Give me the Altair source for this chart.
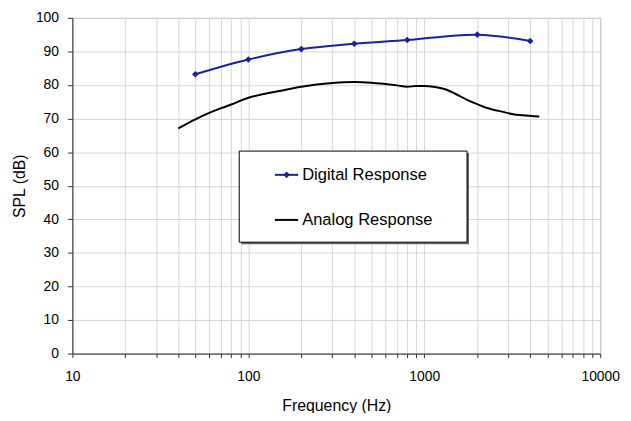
import altair as alt
import pandas as pd

# ---- data ----
dig_freq = [50, 100, 200, 400, 800, 2000, 4000]
dig_spl = [83.2, 87.6, 90.7, 92.3, 93.4, 95.0, 93.1]

ana_freq = [40, 50, 60, 70, 80, 100, 150, 200, 300, 400, 500, 600, 700, 800,
            900, 1000, 1150, 1300, 1500, 1750, 2000, 2300, 2800, 3200, 3600, 4500]
ana_spl = [67.1, 69.8, 71.7, 73.1, 74.2, 76.2, 78.2, 79.5, 80.6, 80.9, 80.7, 80.3,
           79.9, 79.5, 79.7, 79.7, 79.4, 78.8, 77.4, 75.6, 74.3, 73.1, 72.0, 71.3,
           71.0, 70.6]

x_grid = [m * 10 ** e for e in (1, 2, 3) for m in range(1, 10)] + [10000]
x_labels = [10, 100, 1000, 10000]
y_ticks = list(range(0, 101, 10))
legend_labels = ["Digital Response", "Analog Response"]

FONT = "Liberation Sans"
NAVY = "#15249a"

dig = pd.DataFrame({"freq": dig_freq, "spl": dig_spl})
ana = pd.DataFrame({"freq": ana_freq, "spl": ana_spl})

xscale = alt.Scale(type="log", domain=[10, 10000], nice=False)
yscale = alt.Scale(domain=[0, 100], nice=False)

label_expr = "indexof(%s, datum.value) >= 0 ? datum.label : ''" % str(x_labels)

xaxis = alt.Axis(values=x_grid, format="d", labelExpr=label_expr, title="Frequency (Hz)",
                 tickSize=4, labelPadding=12, titleY=57, titleBaseline="alphabetic",
                 labelFlush=False, labelOverlap=False)
yaxis = alt.Axis(values=y_ticks, format="d", title="SPL (dB)", tickSize=5, labelPadding=9,
                 labelOverlap=False, labelFlush=False,
                 titleX=-48, titleY=169.5, titleBaseline="alphabetic", titleAngle=-90)

X = alt.X("freq:Q", scale=xscale, axis=xaxis)
Y = alt.Y("spl:Q", scale=yscale, axis=yaxis)

analog = alt.Chart(ana).mark_line(color="black", strokeWidth=2, interpolate="monotone").encode(x=X, y=Y)
digital_line = alt.Chart(dig).mark_line(color=NAVY, strokeWidth=2, interpolate="catmull-rom").encode(x=X, y=Y)
digital_pts = alt.Chart(dig).mark_point(shape="diamond", filled=True, color=NAVY, size=45, opacity=1).encode(x=X, y=Y)

# ---- legend (decoration) ----
one = pd.DataFrame({"k": [0]})
leg_df = pd.DataFrame({"label": legend_labels})

shadow = alt.Chart(one).mark_rect(fill="#666666").encode(
    x=alt.value(170.5), x2=alt.value(400.5), y=alt.value(136.5), y2=alt.value(228.5))
box = alt.Chart(one).mark_rect(fill="white", stroke="black", strokeWidth=1).encode(
    x=alt.value(168.5), x2=alt.value(398.5), y=alt.value(134.5), y2=alt.value(226.5))

dig_rule = alt.Chart(one).mark_rule(color=NAVY, strokeWidth=2).encode(
    x=alt.value(204.5), x2=alt.value(228), y=alt.value(158.5))
dig_sym = alt.Chart(one).mark_point(shape="diamond", filled=True, color=NAVY, size=45, opacity=1).encode(
    x=alt.value(216.3), y=alt.value(158.5))
ana_rule = alt.Chart(one).mark_rule(color="black", strokeWidth=2).encode(
    x=alt.value(204.5), x2=alt.value(228), y=alt.value(204))

dig_txt = alt.Chart(leg_df).transform_filter(alt.datum.label == legend_labels[0]).mark_text(
    align="left", baseline="middle", font=FONT, fontSize=16.7, color="black").encode(
    text="label:N", x=alt.value(232), y=alt.value(158.5))
ana_txt = alt.Chart(leg_df).transform_filter(alt.datum.label == legend_labels[1]).mark_text(
    align="left", baseline="middle", font=FONT, fontSize=16.7, color="black").encode(
    text="label:N", x=alt.value(232), y=alt.value(204))

chart = alt.layer(
    analog, digital_line, digital_pts,
    shadow, box, dig_rule, dig_sym, ana_rule, dig_txt, ana_txt,
).properties(
    width=533, height=339,
    autosize=alt.AutoSizeParams(type="none"),
    padding={"left": 65, "top": 8, "right": 23, "bottom": 58},
    background="white",
).configure_view(
    stroke="#a0a0a0", strokeWidth=1,
).configure_axis(
    domainColor="#333333", domainWidth=1, tickColor="#333333",
    gridColor="#d6d6d6", gridWidth=1,
    labelFont=FONT, titleFont=FONT, labelFontSize=14, titleFontSize=16,
    labelColor="black", titleColor="black", titleFontWeight="normal",
)

chart.save("out.html", embed_options={"renderer": "svg", "actions": False})
